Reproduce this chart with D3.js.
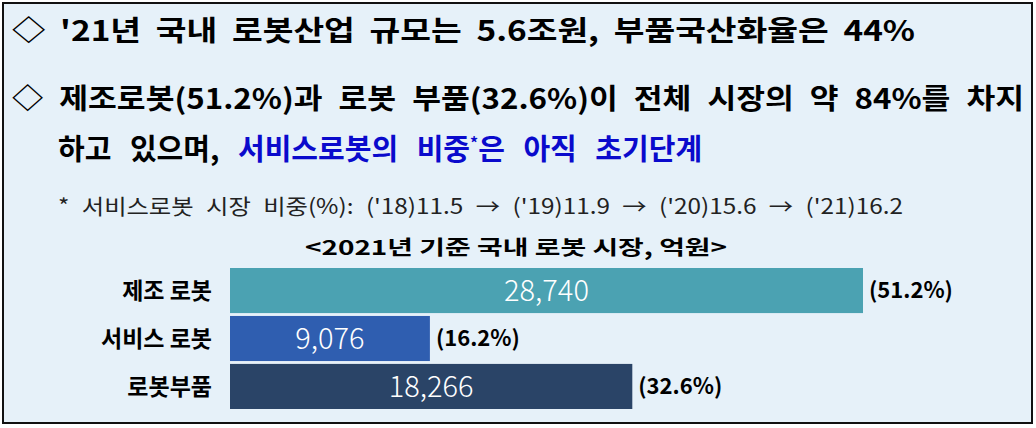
<!DOCTYPE html>
<html><head><meta charset="utf-8">
<script src="https://cdn.jsdelivr.net/npm/d3@7"></script>
<style>body{margin:0;background:#fff}text{font-family:"Noto Sans CJK KR","Noto Sans",sans-serif}</style>
</head><body>
<script>
const categories = ["제조 로봇", "서비스 로봇", "로봇부품"];
const values = [28740, 9076, 18266];
const shares = ["(51.2%)", "(16.2%)", "(32.6%)"];
const colors = ["#4ba2b2", "#2f5eb0", "#2a4467"];

const w = 1036, h = 428;
const svg = d3.select("body").append("svg").attr("width", w).attr("height", h);

svg.append("rect").attr("x", 3).attr("y", 3).attr("width", w - 7).attr("height", h - 8)
  .attr("fill", "#e6f1f9").attr("stroke", "#111").attr("stroke-width", 2);

function stretch(sel, len) {
  return sel.attr("textLength", len).attr("lengthAdjust", "spacingAndGlyphs");
}

// headline text
stretch(svg.append("text").attr("x", 12).attr("y", 41).attr("font-size", 28).attr("font-weight", "bold")
  .attr("word-spacing", 6).text("◇ '21년 국내 로봇산업 규모는 5.6조원, 부품국산화율은 44%"), 903);
stretch(svg.append("text").attr("x", 12).attr("y", 109).attr("font-size", 28).attr("font-weight", "bold")
  .attr("word-spacing", 8).text("◇ 제조로봇(51.2%)과 로봇 부품(32.6%)이 전체 시장의 약 84%를 차지"), 1012);
const l3 = svg.append("text").attr("x", 58).attr("y", 160).attr("font-size", 29).attr("font-weight", "bold")
  .attr("word-spacing", 12);
l3.append("tspan").text("하고 있으며, ");
l3.append("tspan").attr("fill", "#0a0acc").text("서비스로봇의 비중");
l3.append("tspan").attr("fill", "#0a0acc").attr("font-size", 16).attr("dy", -11).text("*");
l3.append("tspan").attr("fill", "#0a0acc").attr("dy", 11).text("은 아직 초기단계");
stretch(svg.append("text").attr("x", 58).attr("y", 214).attr("font-size", 21).attr("fill", "#222")
  .attr("word-spacing", 6)
  .text("* 서비스로봇 시장 비중(%): ('18)11.5 → ('19)11.9 → ('20)15.6 → ('21)16.2"), 845);

stretch(svg.append("text").attr("x", 305).attr("y", 255).attr("font-size", 20).attr("font-weight", "bold")
  .text("<2021년 기준 국내 로봇 시장, 억원>"), 422);

// bars
const x = d3.scaleLinear().domain([0, 28740]).range([230, 863]);
const y = d3.scaleBand().domain(categories).range([268, 409]).paddingInner(0.06);

const g = svg.append("g");
g.selectAll("rect.bar").data(values).join("rect").attr("class", "bar")
  .attr("x", x(0)).attr("y", (d, i) => y(categories[i]))
  .attr("width", d => x(d) - x(0)).attr("height", y.bandwidth())
  .attr("fill", (d, i) => colors[i]);
g.selectAll("text.val").data(values).join("text").attr("class", "val")
  .attr("x", d => (x(0) + x(d)) / 2).attr("y", (d, i) => y(categories[i]) + y.bandwidth() / 2)
  .attr("dy", "0.36em").attr("text-anchor", "middle").attr("fill", "#fff")
  .attr("font-size", 29).attr("font-family", "Roboto").attr("font-weight", 300)
  .text(d => d3.format(",")(d));
g.selectAll("text.share").data(values).join("text").attr("class", "share")
  .attr("x", d => x(d) + 6).attr("y", (d, i) => y(categories[i]) + y.bandwidth() / 2)
  .attr("dy", "0.36em").attr("font-size", 22).attr("font-weight", "bold")
  .text((d, i) => shares[i]);
g.selectAll("text.cat").data(categories).join("text").attr("class", "cat")
  .attr("x", 212).attr("y", d => y(d) + y.bandwidth() / 2)
  .attr("dy", "0.36em").attr("text-anchor", "end").attr("font-size", 23).attr("font-weight", "bold")
  .text(d => d);
</script>
</body></html>
